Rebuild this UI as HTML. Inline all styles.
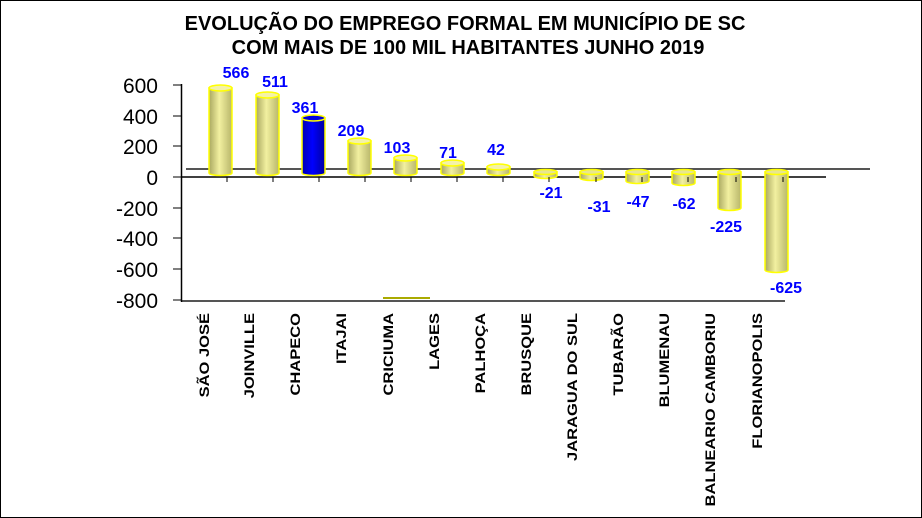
<!DOCTYPE html>
<html><head><meta charset="utf-8"><style>
html,body{margin:0;padding:0;background:#fff}
svg{display:block}
text{font-family:"Liberation Sans",Arial,sans-serif;font-weight:bold}
</style></head><body>
<svg width="922" height="518" viewBox="0 0 922 518" xmlns="http://www.w3.org/2000/svg">
<defs>
<linearGradient id="g" x1="0" x2="1" y1="0" y2="0">
<stop offset="0" stop-color="#a9a860"/><stop offset="0.45" stop-color="#f2f0a0"/><stop offset="1" stop-color="#b8b66a"/>
</linearGradient>
<linearGradient id="b" x1="0" x2="1" y1="0" y2="0">
<stop offset="0" stop-color="#0000b0"/><stop offset="0.45" stop-color="#0000ff"/><stop offset="1" stop-color="#0000a0"/>
</linearGradient>
</defs>
<rect x="0.5" y="0.5" width="921" height="517" fill="#fff" stroke="#000"/>
<text x="465" y="30" font-size="20" text-anchor="middle">EVOLUÇÃO DO EMPREGO FORMAL EM MUNICÍPIO  DE SC</text>
<text x="468" y="54" font-size="20" text-anchor="middle">COM MAIS DE 100 MIL HABITANTES JUNHO 2019</text>
<line x1="186" y1="169" x2="870" y2="169" stroke="#555" stroke-width="2"/>
<line x1="181" y1="177" x2="826" y2="177" stroke="#000" stroke-width="1.5"/>
<line x1="181" y1="301" x2="785" y2="301" stroke="#555" stroke-width="2"/>
<line x1="181.5" y1="84" x2="181.5" y2="302" stroke="#000" stroke-width="1.5"/>
<g stroke="#000" stroke-width="1">
<line x1="173" y1="85" x2="181" y2="85"/><line x1="173" y1="116" x2="181" y2="116"/><line x1="173" y1="146" x2="181" y2="146"/><line x1="173" y1="177" x2="181" y2="177"/><line x1="173" y1="208" x2="181" y2="208"/><line x1="173" y1="238" x2="181" y2="238"/><line x1="173" y1="269" x2="181" y2="269"/><line x1="173" y1="300" x2="181" y2="300"/>
</g>
<g font-size="21" font-weight="normal" text-anchor="end" style="font-weight:normal">
<text x="158" y="93" style="font-weight:normal">600</text><text x="158" y="124" style="font-weight:normal">400</text><text x="158" y="154" style="font-weight:normal">200</text><text x="158" y="185" style="font-weight:normal">0</text><text x="158" y="216" style="font-weight:normal">-200</text><text x="158" y="246" style="font-weight:normal">-400</text><text x="158" y="277" style="font-weight:normal">-600</text><text x="158" y="308" style="font-weight:normal">-800</text>
</g>
<path d="M383 298 L430 298" stroke="#aa0" stroke-width="2"/>
<g stroke="#ff0" stroke-width="1.5">
<path d="M209 88 V173 A11.5 2.5 0 0 0 232 173 V88 Z" fill="url(#g)"/><ellipse cx="220.5" cy="88" rx="11.5" ry="3" fill="#f4f2a8"/>
<path d="M256 95 V173 A11.5 2.5 0 0 0 279 173 V95 Z" fill="url(#g)"/><ellipse cx="267.5" cy="95" rx="11.5" ry="3" fill="#f4f2a8"/>
<path d="M302 118 V173 A11.5 2.5 0 0 0 325 173 V118 Z" fill="url(#b)"/><ellipse cx="313.5" cy="118" rx="11.5" ry="3" fill="#0000e0"/>
<path d="M348 141 V173 A11.5 2.5 0 0 0 371 173 V141 Z" fill="url(#g)"/><ellipse cx="359.5" cy="141" rx="11.5" ry="3" fill="#f4f2a8"/>
<path d="M394 158 V173 A11.5 2.5 0 0 0 417 173 V158 Z" fill="url(#g)"/><ellipse cx="405.5" cy="158" rx="11.5" ry="3" fill="#f4f2a8"/>
<path d="M441 163 V173 A11.5 2.5 0 0 0 464 173 V163 Z" fill="url(#g)"/><ellipse cx="452.5" cy="163" rx="11.5" ry="3" fill="#f4f2a8"/>
<path d="M487 167 V173 A11.5 2.5 0 0 0 510 173 V167 Z" fill="url(#g)"/><ellipse cx="498.5" cy="167" rx="11.5" ry="3" fill="#f4f2a8"/>
<path d="M534 172 V176 A11.5 2.5 0 0 0 557 176 V172 Z" fill="url(#g)"/><ellipse cx="545.5" cy="172" rx="11.5" ry="2.5" fill="#e8e690"/>
<path d="M580 172 V178 A11.5 2.5 0 0 0 603 178 V172 Z" fill="url(#g)"/><ellipse cx="591.5" cy="172" rx="11.5" ry="2.5" fill="#e8e690"/>
<path d="M626 172 V181 A11.5 2.5 0 0 0 649 181 V172 Z" fill="url(#g)"/><ellipse cx="637.5" cy="172" rx="11.5" ry="2.5" fill="#e8e690"/>
<path d="M672 172 V183 A11.5 2.5 0 0 0 695 183 V172 Z" fill="url(#g)"/><ellipse cx="683.5" cy="172" rx="11.5" ry="2.5" fill="#e8e690"/>
<path d="M718 172 V208 A11.5 2.5 0 0 0 741 208 V172 Z" fill="url(#g)"/><ellipse cx="729.5" cy="172" rx="11.5" ry="2.5" fill="#e8e690"/>
<path d="M765 172 V270 A11.5 2.5 0 0 0 788 270 V172 Z" fill="url(#g)"/><ellipse cx="776.5" cy="172" rx="11.5" ry="2.5" fill="#e8e690"/>
</g>
<g stroke="#000"><line x1="227" y1="177" x2="227" y2="182"/><line x1="273" y1="177" x2="273" y2="182"/><line x1="319" y1="177" x2="319" y2="182"/><line x1="365" y1="177" x2="365" y2="182"/><line x1="411" y1="177" x2="411" y2="182"/><line x1="457" y1="177" x2="457" y2="182"/><line x1="503" y1="177" x2="503" y2="182"/><line x1="549" y1="177" x2="549" y2="182"/><line x1="596" y1="177" x2="596" y2="182"/><line x1="642" y1="177" x2="642" y2="182"/><line x1="688" y1="177" x2="688" y2="182"/><line x1="736" y1="177" x2="736" y2="182"/><line x1="783" y1="177" x2="783" y2="182"/></g>
<g font-size="16" fill="#0000ff" text-anchor="middle">
<text x="236" y="78">566</text><text x="275" y="87">511</text><text x="305" y="113">361</text><text x="351" y="136">209</text><text x="397" y="153">103</text><text x="448" y="158">71</text><text x="496" y="155">42</text>
<text x="551" y="198">-21</text><text x="599" y="212">-31</text><text x="638" y="207">-47</text><text x="684" y="209">-62</text><text x="726" y="232">-225</text><text x="786" y="293">-625</text>
</g>
<g font-size="14" text-anchor="end">
<text transform="translate(209,313) rotate(-90) scale(1.18,1)">SÃO JOSÉ</text>
<text transform="translate(254,313) rotate(-90) scale(1.18,1)">JOINVILLE</text>
<text transform="translate(300,313) rotate(-90) scale(1.18,1)">CHAPECO</text>
<text transform="translate(346,313) rotate(-90) scale(1.18,1)">ITAJAI</text>
<text transform="translate(393,313) rotate(-90) scale(1.18,1)">CRICIUMA</text>
<text transform="translate(439,313) rotate(-90) scale(1.18,1)">LAGES</text>
<text transform="translate(485,313) rotate(-90) scale(1.18,1)">PALHOÇA</text>
<text transform="translate(531,313) rotate(-90) scale(1.18,1)">BRUSQUE</text>
<text transform="translate(577,313) rotate(-90) scale(1.18,1)">JARAGUA DO SUL</text>
<text transform="translate(623,313) rotate(-90) scale(1.18,1)">TUBARÃO</text>
<text transform="translate(669,313) rotate(-90) scale(1.18,1)">BLUMENAU</text>
<text transform="translate(715,313) rotate(-90) scale(1.18,1)">BALNEARIO CAMBORIU</text>
<text transform="translate(762,313) rotate(-90) scale(1.18,1)">FLORIANOPOLIS</text>
</g>
</svg>
</body></html>
